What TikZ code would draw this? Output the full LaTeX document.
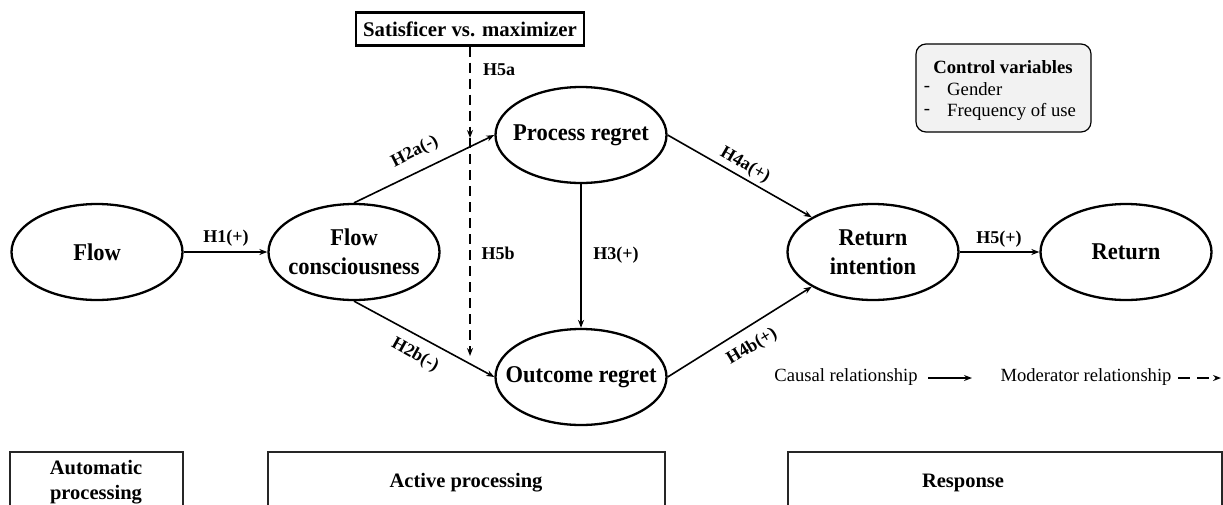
\documentclass[tikz,border=0pt]{standalone}
\usepackage{fontspec}
\setmainfont{Liberation Serif}
\usetikzlibrary{shapes.geometric,arrows.meta}
\begin{document}
\begin{tikzpicture}[x=1pt,y=-1pt,
  ell/.style={ellipse,draw,line width=2.3pt,minimum width=171pt,minimum height=96pt,inner sep=0pt},
  etext/.style={font=\fontsize{22.5}{27.5}\selectfont\bfseries,align=center,inner sep=0pt,yscale=1.07},
  lab/.style={font=\fontsize{18}{20}\selectfont\bfseries,inner sep=0pt},
  legtext/.style={font=\fontsize{18.6}{22}\selectfont,inner sep=0pt},
  cause/.style={line width=1.6pt,-{Stealth[length=8pt,width=6pt]}},
  mod/.style={line width=1.6pt,dash pattern=on 10pt off 6pt,-{Stealth[length=8pt,width=6pt]}},
  modbox/.style={draw,line width=2.4pt,minimum width=228pt,minimum height=33pt,inner sep=0pt,font=\fontsize{20.8}{24}\selectfont\bfseries},
  ctrlbox/.style={draw,line width=1.2pt,rounded corners=10pt,fill=black!5,minimum width=175pt,minimum height=88pt,inner sep=0pt},
  ctrltext/.style={font=\fontsize{18.7}{22}\selectfont,inner sep=0pt},
  stagebox/.style={draw=black!85,line width=1.2pt,inner sep=0pt},
  stagetext/.style={font=\fontsize{20.5}{25}\selectfont\bfseries,align=center,inner sep=0pt}
]
\useasboundingbox (0,0) rectangle (1223,504);
\clip (0,0) rectangle (1223,504);

% ellipses
\node[ell] (f)  at (97,252)  {};
\node[etext,transform shape] (ft) at (f) {Flow};
\node[ell] (fc) at (354,252) {};
\node[etext,transform shape] (fct) at (fc) {Flow\\consciousness};
\node[ell] (pr) at (581,135) {};
\node[etext,transform shape] (prt) at (pr) {Process regret};
\node[ell] (or) at (581,377) {};
\node[etext,transform shape] (ort) at (or) {Outcome regret};
\node[ell] (ri) at (873,252) {};
\node[etext,transform shape] (rit) at (ri) {Return\\intention};
\node[ell] (r)  at (1126,252) {};
\node[etext,transform shape] (rt) at (r) {Return};

% moderator
\node[modbox] (sm) at (470,29) {Satisficer vs. maximizer};
\coordinate (m1) at (470,138);
\coordinate (m2) at (470,356);
\draw[mod] (sm.south) -- (m1);
\draw[mod] (m1) -- (m2);
\node[lab] (h5a) at (499,70) {H5a};
\node[lab] (h5b) at (498,253) {H5b};

% causal paths
\draw[cause] (f) -- (fc);
\node[lab] (h1) at (226,238) {H1(+)};
\draw[cause] (fc.north) -- (pr.west);
\node[lab,rotate=27] (h2a) at (415,152) {H2a(-)};
\draw[cause] (fc.south) -- (or.west);
\node[lab,rotate=-29] (h2b) at (415,355) {H2b(-)};
\draw[cause] (pr.south) -- (or.north);
\node[lab] (h3) at (616,255) {H3(+)};
\draw[cause] (pr.east) -- (ri.north west);
\node[lab,rotate=-30] (h4a) at (745,165) {H4a(+)};
\draw[cause] (or.east) -- (ri.south west);
\node[lab,rotate=31] (h4b) at (752,347) {H4b(+)};
\draw[cause] (ri) -- (r);
\node[lab] (h5) at (999,239) {H5(+)};

% control variables
\node[ctrlbox] (cv) at (1003.5,88) {};
\node[ctrltext,font=\fontsize{18.7}{22}\selectfont\bfseries] (cvh) at (1003,67) {Control variables};
\node[ctrltext] (d1) at (927,89) {-};
\node[ctrltext,anchor=west] (g) at (947,89) {Gender};
\node[ctrltext] (d2) at (927,112) {-};
\node[ctrltext,anchor=west] (fu) at (947,112) {Frequency of use};

% legend
\node[legtext] (lc) at (846,377) {Causal relationship};
\coordinate (lc1) at (928,378);
\coordinate (lc2) at (972,378);
\draw[cause] (lc1) -- (lc2);
\node[legtext] (lm) at (1086,377) {Moderator relationship};
\coordinate (lm1) at (1178,378);
\coordinate (lm2) at (1221,378);
\draw[line width=1.6pt,dash pattern=on 12pt off 7pt,-{Stealth[length=8pt,width=6pt]}] (lm1) -- (lm2);

% stage boxes
\node[stagebox,minimum width=173pt,minimum height=80pt] (sa) at (96.5,492) {};
\node[stagetext] (sat) at (96,482) {Automatic\\processing};
\node[stagebox,minimum width=397pt,minimum height=80pt] (sb) at (466.5,492) {};
\node[stagetext] (sbt) at (466,483) {Active processing};
\node[stagebox,minimum width=434pt,minimum height=80pt] (sc) at (1005,492) {};
\node[stagetext] (sct) at (963,483) {Response};
\end{tikzpicture}
\end{document}
